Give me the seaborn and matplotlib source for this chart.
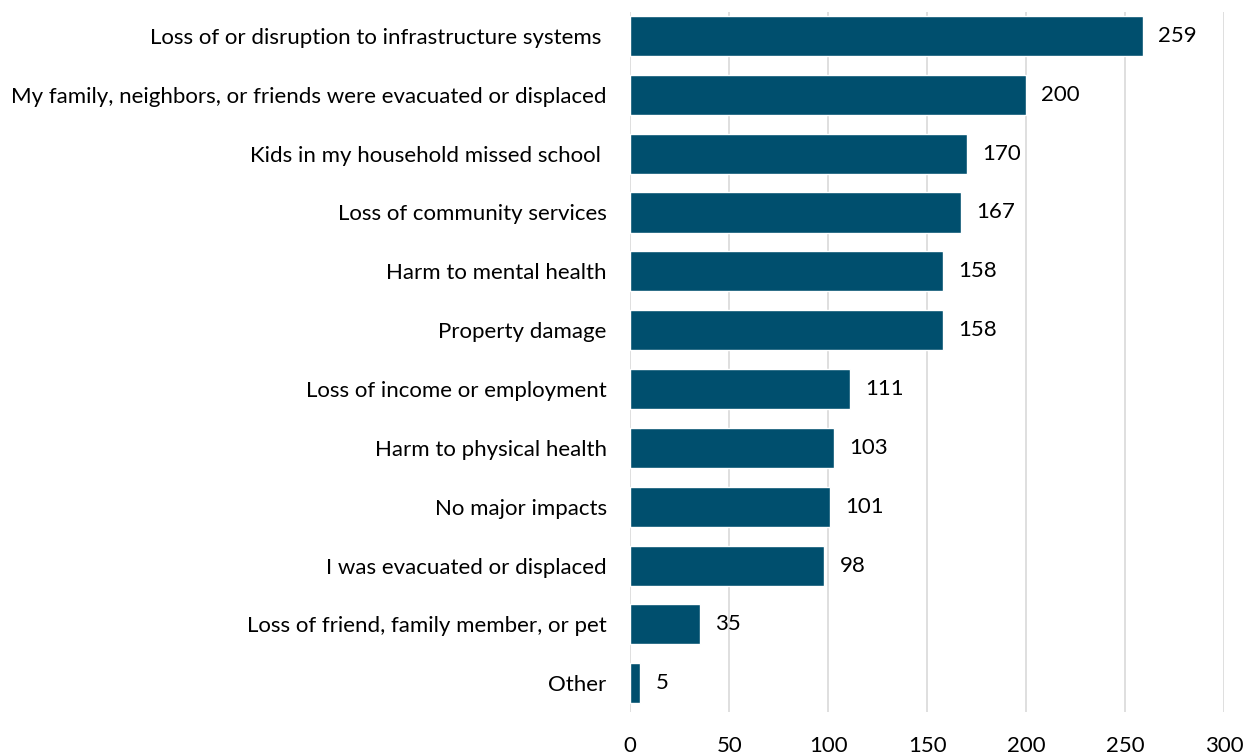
import matplotlib
matplotlib.use("Agg")
import matplotlib.pyplot as plt
import seaborn as sns
import pandas as pd

categories = [
    "Loss of or disruption to infrastructure systems ",
    "My family, neighbors, or friends were evacuated or displaced",
    "Kids in my household missed school ",
    "Loss of community services",
    "Harm to mental health",
    "Property damage",
    "Loss of income or employment",
    "Harm to physical health",
    "No major impacts",
    "I was evacuated or displaced",
    "Loss of friend, family member, or pet",
    "Other",
]
counts = [259, 200, 170, 167, 158, 158, 111, 103, 101, 98, 35, 5]
x_ticks = [0, 50, 100, 150, 200, 250, 300]

df = pd.DataFrame({"impact": categories, "count": counts})

sns.set_theme(style="white")
plt.rcParams["font.family"] = ["Lato", "DejaVu Sans"]

fig = plt.figure(figsize=(12.53, 7.54), dpi=100)
ax = fig.add_axes([0.503, 0.0557, 0.474, 0.9284])

bar_color = "#004F6E"
sns.barplot(data=df, x="count", y="impact", color=bar_color, saturation=1,
            width=0.68, ax=ax, zorder=3)

ax.set_xlim(0, 300)
ax.set_ylim(11.49, -0.408)
ax.set_xticks(x_ticks)
ax.set_xticklabels([str(t) for t in x_ticks])
ax.xaxis.grid(True, color="#d9d9d9", linewidth=1.2, zorder=0)
ax.yaxis.grid(False)
for s in ax.spines.values():
    s.set_visible(False)
ax.set_xlabel("")
ax.set_ylabel("")
ax.tick_params(axis="x", length=0, pad=17, labelsize=16, colors="black")
ax.tick_params(axis="y", length=0, pad=17, labelsize=16, colors="black")

for i, v in enumerate(counts):
    ax.annotate(str(v), xy=(v, i), xytext=(11, 0), textcoords="offset points",
                va="center", ha="left", fontsize=16, color="black")

fig.savefig("out.png", dpi=100)
